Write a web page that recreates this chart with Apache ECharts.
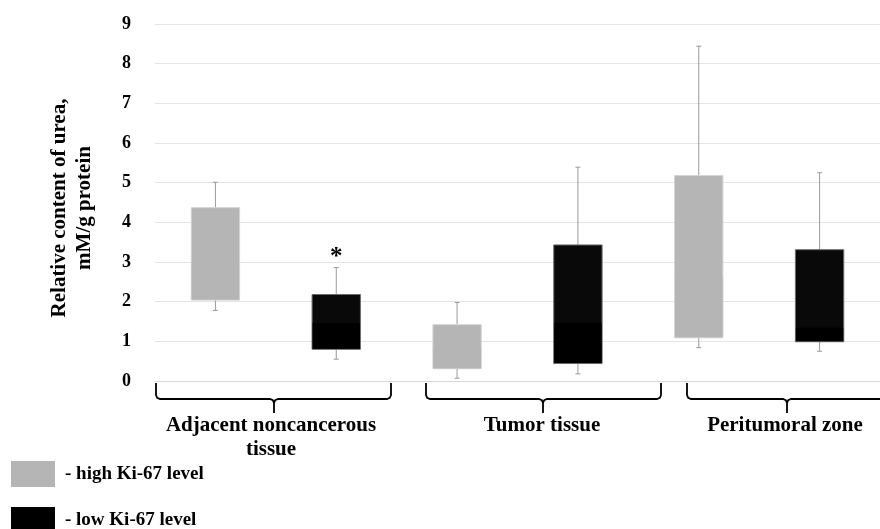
<!DOCTYPE html>
<html>
<head>
<meta charset="utf-8">
<script src="https://cdn.jsdelivr.net/npm/echarts@6/dist/echarts.min.js"></script>
<style>
html,body{margin:0;padding:0;background:#fff;}
#chart{width:880px;height:529px;}
</style>
</head>
<body>
<div id="chart"></div>
<script>
// ---- data ----
var categories = ['Adjacent high', 'Adjacent low', 'Tumor high', 'Tumor low', 'Peritumoral high', 'Peritumoral low'];
var groupLabels = ['Adjacent noncancerous\ntissue', 'Tumor tissue', 'Peritumoral zone'];
var yTicks = [0, 1, 2, 3, 4, 5, 6, 7, 8, 9];

// high Ki-67 level (categories 0, 2, 4)
var highIndex  = [0, 2, 4];
var highMin    = [1.78, 0.07, 0.84];
var highQ1     = [2.04, 0.31, 1.09];
var highMedian = [3.00, 0.84, 2.60];
var highQ3     = [4.37, 1.42, 5.18];
var highMax    = [5.01, 1.98, 8.44];

// low Ki-67 level (categories 1, 3, 5)
var lowIndex  = [1, 3, 5];
var lowMin    = [0.55, 0.18, 0.75];
var lowQ1     = [0.80, 0.44, 0.99];
var lowMedian = [1.46, 1.47, 1.34];
var lowQ3     = [2.18, 3.43, 3.31];
var lowMax    = [2.86, 5.39, 5.25];
var lowMarks  = ['*', '', ''];

var seriesNames = ['- high Ki-67 level', '- low Ki-67 level'];

var FONT = '"Liberation Serif", "Times New Roman", serif';

function buildData(idx, mn, q1, md, q3, mx) {
  return idx.map(function (c, i) { return [c, mn[i], q1[i], md[i], q3[i], mx[i]]; });
}

function makeRender(lowerColor, upperColor, borderColor, marks) {
  return function (params, api) {
    var c = api.value(0);
    var pMin = api.coord([c, api.value(1)]);
    var pQ1 = api.coord([c, api.value(2)]);
    var pMed = api.coord([c, api.value(3)]);
    var pQ3 = api.coord([c, api.value(4)]);
    var pMax = api.coord([c, api.value(5)]);
    var w = api.size([1, 0])[0] * 0.4;
    var x = pQ1[0];
    var cap = 2.5;
    var ws = { stroke: '#9a9a9a', lineWidth: 1 };
    var children = [
      { type: 'line', shape: { x1: x, y1: pQ3[1], x2: x, y2: pMax[1] }, style: ws },
      { type: 'line', shape: { x1: x - cap, y1: pMax[1], x2: x + cap, y2: pMax[1] }, style: ws },
      { type: 'line', shape: { x1: x, y1: pQ1[1], x2: x, y2: pMin[1] }, style: ws },
      { type: 'line', shape: { x1: x - cap, y1: pMin[1], x2: x + cap, y2: pMin[1] }, style: ws },
      { type: 'rect', shape: { x: x - w / 2, y: pQ3[1], width: w, height: pQ1[1] - pQ3[1] },
        style: { fill: upperColor, stroke: borderColor, lineWidth: 1 } },
      { type: 'rect', shape: { x: x - w / 2 + 0.5, y: pMed[1], width: w - 1, height: pQ1[1] - pMed[1] - 0.5 },
        style: { fill: lowerColor } }
    ];
    var m = marks ? marks[params.dataIndex] : '';
    if (m) {
      children.push({ type: 'text', x: x, y: pMax[1] - 10,
        style: { text: m, align: 'center', verticalAlign: 'middle', font: 'bold 25px ' + FONT, fill: '#000' } });
    }
    return { type: 'group', children: children };
  };
}

// bracket helper (annotation, not data)
function bracket(L, R, C) {
  var yT = 383, yH = 399, yB = 413, r = 4;
  var st = { stroke: '#000', lineWidth: 1.8, fill: null };
  return [
    { type: 'polyline', silent: true, shape: { points: [[L, yT], [L, yH - r], [L + 1.2, yH - 1.2], [L + r, yH], [C - r, yH], [C - 1.2, yH + 1.2], [C, yH + r], [C, yB]] }, style: st },
    { type: 'polyline', silent: true, shape: { points: [[C, yH + r], [C + 1.2, yH + 1.2], [C + r, yH], [R - r, yH], [R - 1.2, yH - 1.2], [R, yH - r], [R, yT]] }, style: st }
  ];
}
function groupText(t, x) {
  return { type: 'text', silent: true, x: x, y: 413.5,
    style: { text: t, align: 'center', verticalAlign: 'top', lineHeight: 24, font: 'bold 21px ' + FONT, fill: '#000' } };
}

var chart = echarts.init(document.getElementById('chart'), null, { renderer: 'canvas' });
var graphics = []
  .concat(bracket(156, 391, 274))
  .concat(bracket(426, 661, 543))
  .concat(bracket(687, 905, 787))
  .concat([
    groupText(groupLabels[0], 271),
    groupText(groupLabels[1], 542),
    groupText(groupLabels[2], 785),
    { type: 'text', silent: true, x: 72, y: 208, rotation: Math.PI / 2,
      style: { text: 'Relative content of urea,\nmM/g protein', align: 'center', verticalAlign: 'middle',
        lineHeight: 25, font: 'bold 21px ' + FONT, fill: '#000' } }
  ]);

var legendBase = {
  orient: 'vertical', left: 11, itemWidth: 44, itemHeight: 26, itemGap: 20,
  icon: 'rect', selectedMode: false, padding: 0,
  itemStyle: { borderWidth: 0 },
  textStyle: { fontFamily: FONT, fontWeight: 'bold', fontSize: 19, color: '#000', padding: [0, 0, 0, 5] }
};

chart.setOption({
  animation: false,
  backgroundColor: '#fff',
  grid: { left: 155, right: -3, top: 24, bottom: 148 },
  legend: [
    Object.assign({}, legendBase, { top: 461, data: [seriesNames[0]] }),
    Object.assign({}, legendBase, { top: 507, data: [seriesNames[1]] })
  ],
  xAxis: {
    type: 'category', data: categories,
    axisLine: { show: true, lineStyle: { color: '#d9d9d9', width: 1 } },
    axisTick: { show: false }, axisLabel: { show: false }, splitLine: { show: false }
  },
  yAxis: {
    type: 'value', min: yTicks[0], max: yTicks[yTicks.length - 1], interval: 1,
    axisLine: { show: false }, axisTick: { show: false },
    splitLine: { lineStyle: { color: '#e4e4e4', width: 1 } },
    axisLabel: { margin: 24, color: '#000', fontFamily: FONT, fontWeight: 'bold', fontSize: 18 }
  },
  graphic: graphics,
  series: [
    {
      name: seriesNames[0], type: 'custom',
      itemStyle: { color: '#b5b5b5' },
      encode: { x: 0, y: [1, 2, 3, 4, 5] },
      data: buildData(highIndex, highMin, highQ1, highMedian, highQ3, highMax),
      renderItem: makeRender('#b5b5b5', '#b5b5b5', '#d4d4d4', null)
    },
    {
      name: seriesNames[1], type: 'custom',
      itemStyle: { color: '#000000' },
      encode: { x: 0, y: [1, 2, 3, 4, 5] },
      data: buildData(lowIndex, lowMin, lowQ1, lowMedian, lowQ3, lowMax),
      renderItem: makeRender('#000000', '#090909', '#6a6a6a', lowMarks)
    }
  ]
});
</script>
</body>
</html>
